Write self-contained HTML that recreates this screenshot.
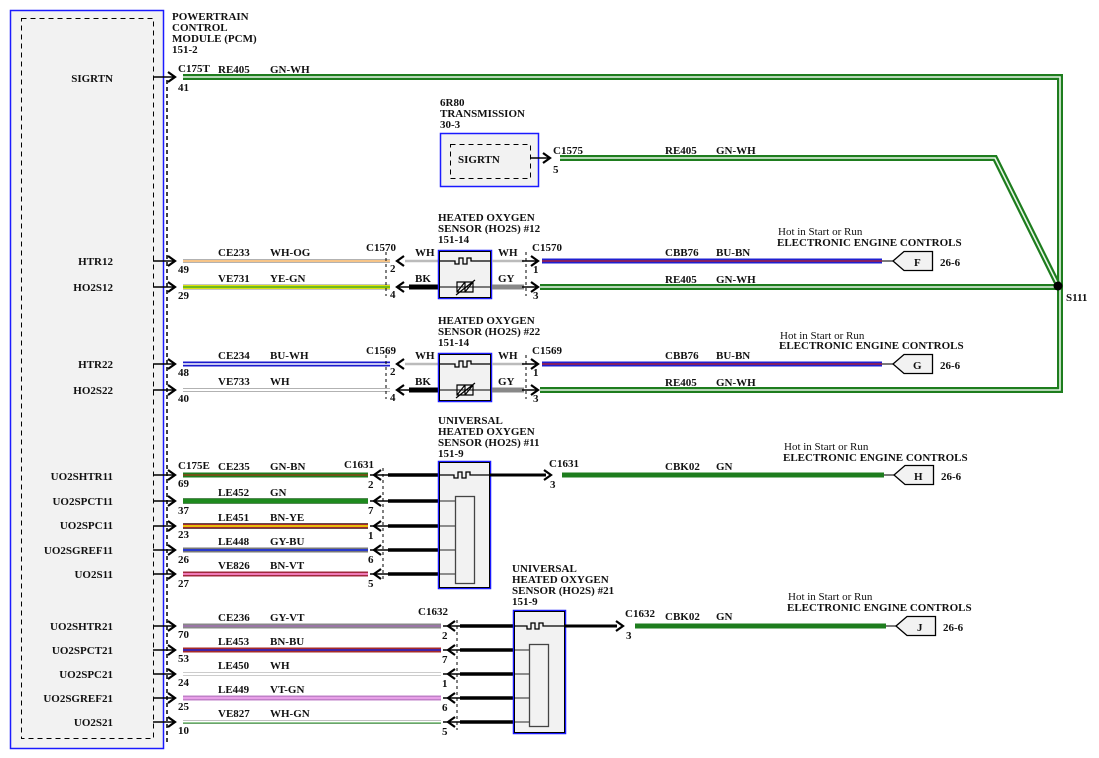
<!DOCTYPE html>
<html><head><meta charset="utf-8"><style>
html,body{margin:0;padding:0;background:#fff}
svg{display:block}
text{font-family:"Liberation Serif",serif;font-size:11px;font-weight:bold;fill:#111}
.n{font-size:11px}
</style></head><body>
<svg width="1099" height="758" viewBox="0 0 1099 758" xmlns="http://www.w3.org/2000/svg">
<defs>
<path id="rc" d="M-7,-5 L0,0 L-7,5" fill="none" stroke="#000" stroke-width="2.2"/>
<path id="lc" d="M7,-5 L0,0 L7,5" fill="none" stroke="#000" stroke-width="2.2"/>
</defs>
<!-- PCM -->
<rect x="10.5" y="10.5" width="153" height="738" fill="#f2f2f2" stroke="#1a1aff" stroke-width="1.5"/>
<rect x="21.5" y="18.5" width="132" height="720" fill="none" stroke="#000" stroke-dasharray="5,4"/>
<line x1="167" y1="80" x2="167" y2="742" stroke="#000" stroke-dasharray="4,3" stroke-width="1.5"/>
<text x="172" y="20">POWERTRAIN</text><text x="172" y="31">CONTROL</text><text x="172" y="42">MODULE (PCM)</text><text x="172" y="53">151-2</text>
<g text-anchor="end">
<text x="113" y="82">SIGRTN</text>
<text x="113" y="265">HTR12</text><text x="113" y="291">HO2S12</text>
<text x="113" y="368">HTR22</text><text x="113" y="394">HO2S22</text>
<text x="113" y="480">UO2SHTR11</text><text x="113" y="505">UO2SPCT11</text><text x="113" y="529">UO2SPC11</text><text x="113" y="554">UO2SGREF11</text><text x="113" y="578">UO2S11</text>
<text x="113" y="630">UO2SHTR21</text><text x="113" y="654">UO2SPCT21</text><text x="113" y="678">UO2SPC21</text><text x="113" y="702">UO2SGREF21</text><text x="113" y="726">UO2S21</text>
</g>
<!-- PCM pin stubs and chevrons -->
<g stroke="#000" stroke-width="1.5">
<line x1="153" y1="77" x2="174" y2="77"/><line x1="153" y1="261" x2="174" y2="261"/><line x1="153" y1="287" x2="174" y2="287"/>
<line x1="153" y1="364" x2="174" y2="364"/><line x1="153" y1="390" x2="174" y2="390"/>
<line x1="153" y1="475" x2="174" y2="475"/><line x1="153" y1="501" x2="174" y2="501"/><line x1="153" y1="526" x2="174" y2="526"/><line x1="153" y1="550" x2="174" y2="550"/><line x1="153" y1="574" x2="174" y2="574"/>
<line x1="153" y1="626" x2="174" y2="626"/><line x1="153" y1="650" x2="174" y2="650"/><line x1="153" y1="674" x2="174" y2="674"/><line x1="153" y1="698" x2="174" y2="698"/><line x1="153" y1="722" x2="174" y2="722"/>
</g>
<use href="#rc" x="175" y="77"/><use href="#rc" x="175" y="261"/><use href="#rc" x="175" y="287"/><use href="#rc" x="175" y="364"/><use href="#rc" x="175" y="390"/>
<use href="#rc" x="175" y="475"/><use href="#rc" x="175" y="501"/><use href="#rc" x="175" y="526"/><use href="#rc" x="175" y="550"/><use href="#rc" x="175" y="574"/>
<use href="#rc" x="175" y="626"/><use href="#rc" x="175" y="650"/><use href="#rc" x="175" y="674"/><use href="#rc" x="175" y="698"/><use href="#rc" x="175" y="722"/>
<g class="n">
<text x="178" y="91">41</text><text x="178" y="273">49</text><text x="178" y="299">29</text><text x="178" y="376">48</text><text x="178" y="402">40</text>
<text x="178" y="487">69</text><text x="178" y="514">37</text><text x="178" y="538">23</text><text x="178" y="563">26</text><text x="178" y="587">27</text>
<text x="178" y="638">70</text><text x="178" y="662">53</text><text x="178" y="686">24</text><text x="178" y="710">25</text><text x="178" y="734">10</text>
</g>
<!-- Green GN-WH trunk -->
<g fill="none" stroke-linejoin="miter">
<path d="M183,77 L1060,77 L1060,390 L540,390" stroke="#1e7d1e" stroke-width="6"/>
<path d="M183,77 L1060,77 L1060,390 L540,390" stroke="#e8f5e8" stroke-width="1.6"/>
<path d="M540,287 L1058,287" stroke="#1e7d1e" stroke-width="6"/><path d="M540,287 L1058,287" stroke="#e8f5e8" stroke-width="1.6"/>
<path d="M560,158 L995,158 L1058,285" stroke="#1e7d1e" stroke-width="6"/><path d="M560,158 L995,158 L1058,285" stroke="#e8f5e8" stroke-width="1.6"/>
</g>
<circle cx="1058" cy="286" r="4.5" fill="#000"/>
<text x="1066" y="301">S111</text>
<text x="178" y="72">C175T</text><text x="218" y="73">RE405</text><text x="270" y="73">GN-WH</text>
<!-- 6R80 -->
<text x="440" y="106">6R80</text><text x="440" y="117">TRANSMISSION</text><text x="440" y="128">30-3</text>
<rect x="440.5" y="133.5" width="98" height="53" fill="#f2f2f2" stroke="#1a1aff" stroke-width="1.5"/>
<rect x="450.5" y="144.5" width="80" height="34" fill="none" stroke="#000" stroke-dasharray="5,4"/>
<text x="458" y="163">SIGRTN</text>
<line x1="530" y1="158" x2="548" y2="158" stroke="#000" stroke-width="1.5"/><use href="#rc" x="550" y="158"/>
<text x="553" y="154">C1575</text><text x="553" y="173">5</text>
<text x="665" y="154">RE405</text><text x="716" y="154">GN-WH</text>
<text x="665" y="283">RE405</text><text x="716" y="283">GN-WH</text>
<text x="665" y="386">RE405</text><text x="716" y="386">GN-WH</text>

<!-- HO2S #12 / #22 groups -->
<g id="g12">
<!-- wires left -->
<line x1="183" y1="261" x2="390" y2="261" stroke="#999" stroke-width="4"/><line x1="183" y1="261" x2="390" y2="261" stroke="#fff" stroke-width="2.4"/><line x1="183" y1="261" x2="390" y2="261" stroke="#f0a040" stroke-width="1.2"/>
<line x1="183" y1="287" x2="390" y2="287" stroke="#888" stroke-width="5"/><line x1="183" y1="287" x2="390" y2="287" stroke="#e8ee00" stroke-width="3.8"/><line x1="183" y1="287" x2="390" y2="287" stroke="#2a9a2a" stroke-width="1.2"/>
<text x="218" y="256">CE233</text><text x="270" y="256">WH-OG</text>
<text x="218" y="282">VE731</text><text x="270" y="282">YE-GN</text>
<text x="366" y="251">C1570</text>
<use href="#lc" x="397" y="261"/><use href="#lc" x="397" y="287"/>
<line x1="405" y1="261" x2="438" y2="261" stroke="#bbb" stroke-width="2.5"/>
<line x1="409" y1="287" x2="438" y2="287" stroke="#000" stroke-width="5"/><line x1="399" y1="287" x2="410" y2="287" stroke="#000" stroke-width="1.5"/>
<line x1="386" y1="252" x2="386" y2="296" stroke="#000" stroke-dasharray="3,3"/>
<text x="390" y="272">2</text><text x="390" y="298">4</text>
<text x="415" y="256">WH</text><text x="415" y="282">BK</text>
<rect x="438.5" y="250.5" width="53" height="48" fill="#f2f2f2" stroke="#1a1aff" stroke-width="1.5"/>
<rect x="439.5" y="251.5" width="51" height="46" fill="none" stroke="#000" stroke-width="1"/>
<path d="M440,261 L455,261 L455,264 L459,264 L459,258 L463,258 L463,264 L467,264 L467,258 L471,258 L471,261 L490,261" fill="none" stroke="#000" stroke-width="1.3"/>
<line x1="440" y1="287" x2="490" y2="287" stroke="#000" stroke-width="1"/>
<path d="M457,282 L465,282 L465,292 L457,292 Z M465,282 L473,282 L473,292 L465,292 Z M457,292 L465,282 M465,292 L473,282 M456,295 L475,280" fill="none" stroke="#000" stroke-width="1.2"/>
<line x1="492" y1="261" x2="524" y2="261" stroke="#bbb" stroke-width="2.5"/>
<line x1="492" y1="287" x2="524" y2="287" stroke="#888" stroke-width="5"/>
<text x="498" y="256">WH</text><text x="498" y="282">GY</text>
<line x1="526" y1="252" x2="526" y2="296" stroke="#000" stroke-dasharray="3,3"/>
<line x1="522" y1="261" x2="536" y2="261" stroke="#000" stroke-width="1.5"/><line x1="522" y1="287" x2="536" y2="287" stroke="#000" stroke-width="1.5"/>
<use href="#rc" x="538" y="261"/><use href="#rc" x="538" y="287"/>
<text x="532" y="251">C1570</text><text x="533" y="273">1</text><text x="533" y="299">3</text>
<line x1="542" y1="261" x2="882" y2="261" stroke="#2020d0" stroke-width="5"/><line x1="542" y1="261" x2="882" y2="261" stroke="#c02020" stroke-width="1.3"/>
<text x="665" y="256">CBB76</text><text x="716" y="256">BU-BN</text>
<line x1="882" y1="261" x2="893" y2="261" stroke="#333" stroke-width="1.3"/>
<path d="M893,261 L904,251.5 L932.5,251.5 L932.5,270.5 L904,270.5 Z" fill="#f2f2f2" stroke="#000" stroke-width="1.3"/>
<text x="914" y="266">F</text><text x="940" y="266">26-6</text>
<text x="778" y="235" style="font-weight:normal">Hot in Start or Run</text><text x="777" y="246">ELECTRONIC ENGINE CONTROLS</text>
<text x="438" y="221">HEATED OXYGEN</text><text x="438" y="232">SENSOR (HO2S) #12</text><text x="438" y="243">151-14</text>
</g>
<!-- group 22 -->
<g>
<line x1="183" y1="364" x2="390" y2="364" stroke="#1a1acc" stroke-width="5"/><line x1="183" y1="364" x2="390" y2="364" stroke="#fff" stroke-width="1.4"/>
<line x1="183" y1="390" x2="390" y2="390" stroke="#999" stroke-width="4"/><line x1="183" y1="390" x2="390" y2="390" stroke="#fff" stroke-width="2.6"/>
<text x="218" y="359">CE234</text><text x="270" y="359">BU-WH</text>
<text x="218" y="385">VE733</text><text x="270" y="385">WH</text>
<text x="366" y="354">C1569</text>
<use href="#lc" x="397" y="364"/><use href="#lc" x="397" y="390"/>
<line x1="405" y1="364" x2="438" y2="364" stroke="#bbb" stroke-width="2.5"/>
<line x1="409" y1="390" x2="438" y2="390" stroke="#000" stroke-width="5"/><line x1="399" y1="390" x2="410" y2="390" stroke="#000" stroke-width="1.5"/>
<line x1="386" y1="355" x2="386" y2="399" stroke="#000" stroke-dasharray="3,3"/>
<text x="390" y="375">2</text><text x="390" y="401">4</text>
<text x="415" y="359">WH</text><text x="415" y="385">BK</text>
<rect x="438.5" y="353.5" width="53" height="48" fill="#f2f2f2" stroke="#1a1aff" stroke-width="1.5"/>
<rect x="439.5" y="354.5" width="51" height="46" fill="none" stroke="#000" stroke-width="1"/>
<path d="M440,364 L455,364 L455,367 L459,367 L459,361 L463,361 L463,367 L467,367 L467,361 L471,361 L471,364 L490,364" fill="none" stroke="#000" stroke-width="1.3"/>
<line x1="440" y1="390" x2="490" y2="390" stroke="#000" stroke-width="1"/>
<path d="M457,385 L465,385 L465,395 L457,395 Z M465,385 L473,385 L473,395 L465,395 Z M457,395 L465,385 M465,395 L473,385 M456,398 L475,383" fill="none" stroke="#000" stroke-width="1.2"/>
<line x1="492" y1="364" x2="524" y2="364" stroke="#bbb" stroke-width="2.5"/>
<line x1="492" y1="390" x2="524" y2="390" stroke="#888" stroke-width="5"/>
<text x="498" y="359">WH</text><text x="498" y="385">GY</text>
<line x1="526" y1="355" x2="526" y2="399" stroke="#000" stroke-dasharray="3,3"/>
<line x1="522" y1="364" x2="536" y2="364" stroke="#000" stroke-width="1.5"/><line x1="522" y1="390" x2="536" y2="390" stroke="#000" stroke-width="1.5"/>
<use href="#rc" x="538" y="364"/><use href="#rc" x="538" y="390"/>
<text x="532" y="354">C1569</text><text x="533" y="376">1</text><text x="533" y="402">3</text>
<line x1="542" y1="364" x2="882" y2="364" stroke="#2020d0" stroke-width="5"/><line x1="542" y1="364" x2="882" y2="364" stroke="#c02020" stroke-width="1.3"/>
<text x="665" y="359">CBB76</text><text x="716" y="359">BU-BN</text>
<line x1="882" y1="364" x2="893" y2="364" stroke="#333" stroke-width="1.3"/>
<path d="M893,364 L904,354.5 L932.5,354.5 L932.5,373.5 L904,373.5 Z" fill="#f2f2f2" stroke="#000" stroke-width="1.3"/>
<text x="913" y="369">G</text><text x="940" y="369">26-6</text>
<text x="780" y="339" style="font-weight:normal">Hot in Start or Run</text><text x="779" y="349">ELECTRONIC ENGINE CONTROLS</text>
<text x="438" y="324">HEATED OXYGEN</text><text x="438" y="335">SENSOR (HO2S) #22</text><text x="438" y="346">151-14</text>
</g>

<!-- UHO2S #11 -->
<g>
<line x1="183" y1="475" x2="368" y2="475" stroke="#1e7d1e" stroke-width="5"/><line x1="183" y1="475" x2="368" y2="475" stroke="#8b4513" stroke-width="1.4"/>
<line x1="183" y1="501" x2="368" y2="501" stroke="#888" stroke-width="6"/><line x1="183" y1="501" x2="368" y2="501" stroke="#1e8a1e" stroke-width="5"/>
<line x1="183" y1="526" x2="368" y2="526" stroke="#555" stroke-width="6"/><line x1="183" y1="526" x2="368" y2="526" stroke="#a52a2a" stroke-width="4.5"/><line x1="183" y1="526" x2="368" y2="526" stroke="#ffee00" stroke-width="1.6"/>
<line x1="183" y1="550" x2="368" y2="550" stroke="#777" stroke-width="5"/><line x1="183" y1="550" x2="368" y2="550" stroke="#2a3acc" stroke-width="2"/>
<line x1="183" y1="574" x2="368" y2="574" stroke="#a0283c" stroke-width="5"/><line x1="183" y1="574" x2="368" y2="574" stroke="#f07ab8" stroke-width="2"/>
<text x="178" y="469">C175E</text><text x="218" y="470">CE235</text><text x="270" y="470">GN-BN</text>
<text x="218" y="496">LE452</text><text x="270" y="496">GN</text>
<text x="218" y="521">LE451</text><text x="270" y="521">BN-YE</text>
<text x="218" y="545">LE448</text><text x="270" y="545">GY-BU</text>
<text x="218" y="569">VE826</text><text x="270" y="569">BN-VT</text>
<text x="344" y="468">C1631</text>
<g stroke="#000" stroke-width="1.5"><line x1="370" y1="475" x2="388" y2="475"/><line x1="370" y1="501" x2="388" y2="501"/><line x1="370" y1="526" x2="388" y2="526"/><line x1="370" y1="550" x2="388" y2="550"/><line x1="370" y1="574" x2="388" y2="574"/></g>
<use href="#lc" x="374" y="475"/><use href="#lc" x="374" y="501"/><use href="#lc" x="374" y="526"/><use href="#lc" x="374" y="550"/><use href="#lc" x="374" y="574"/>
<rect x="383.5" y="468.5" width="0" height="0"/>
<line x1="383" y1="468" x2="383" y2="582" stroke="#000" stroke-dasharray="3,3"/>
<text x="368" y="488">2</text><text x="368" y="514">7</text><text x="368" y="539">1</text><text x="368" y="563">6</text><text x="368" y="587">5</text>
<g stroke="#000" stroke-width="3.5"><line x1="388" y1="475" x2="438" y2="475"/><line x1="388" y1="501" x2="438" y2="501"/><line x1="388" y1="526" x2="438" y2="526"/><line x1="388" y1="550" x2="438" y2="550"/><line x1="388" y1="574" x2="438" y2="574"/></g>
<rect x="438.5" y="461.5" width="52" height="127" fill="#f2f2f2" stroke="#1a1aff" stroke-width="1.5"/>
<rect x="439.5" y="462.5" width="50" height="125" fill="none" stroke="#000" stroke-width="1"/>
<g stroke="#555" stroke-width="1.3"><line x1="440" y1="501" x2="455" y2="501"/><line x1="440" y1="526" x2="455" y2="526"/><line x1="440" y1="550" x2="455" y2="550"/><line x1="440" y1="574" x2="455" y2="574"/></g>
<rect x="455.5" y="496.5" width="19" height="87" fill="#f2f2f2" stroke="#444" stroke-width="1.3"/>
<path d="M440,475 L454,475 L454,478 L458,478 L458,472 L462,472 L462,478 L466,478 L466,472 L470,472 L470,475 L490,475" fill="none" stroke="#000" stroke-width="1.3"/>
<line x1="490" y1="475" x2="546" y2="475" stroke="#000" stroke-width="3"/><use href="#rc" x="551" y="475"/>
<text x="549" y="467">C1631</text><text x="550" y="488">3</text>
<line x1="562" y1="475" x2="884" y2="475" stroke="#1e7d1e" stroke-width="5"/>
<text x="665" y="470">CBK02</text><text x="716" y="470">GN</text>
<line x1="884" y1="475" x2="894" y2="475" stroke="#333" stroke-width="1.3"/>
<path d="M894,475 L905,465.5 L933.5,465.5 L933.5,484.5 L905,484.5 Z" fill="#f2f2f2" stroke="#000" stroke-width="1.3"/>
<text x="914" y="480">H</text><text x="941" y="480">26-6</text>
<text x="784" y="450" style="font-weight:normal">Hot in Start or Run</text><text x="783" y="461">ELECTRONIC ENGINE CONTROLS</text>
<text x="438" y="424">UNIVERSAL</text><text x="438" y="435">HEATED OXYGEN</text><text x="438" y="446">SENSOR (HO2S) #11</text><text x="438" y="457">151-9</text>
</g>

<!-- UHO2S #21 -->
<g>
<line x1="183" y1="626" x2="441" y2="626" stroke="#888" stroke-width="5"/><line x1="183" y1="626" x2="441" y2="626" stroke="#a070b0" stroke-width="1.6"/>
<line x1="183" y1="650" x2="441" y2="650" stroke="#a52a2a" stroke-width="5"/><line x1="183" y1="650" x2="441" y2="650" stroke="#2020d0" stroke-width="1.6"/>
<line x1="183" y1="674" x2="441" y2="674" stroke="#bbb" stroke-width="4"/><line x1="183" y1="674" x2="441" y2="674" stroke="#fff" stroke-width="2.4"/>
<line x1="183" y1="698" x2="441" y2="698" stroke="#c080c8" stroke-width="5"/><line x1="183" y1="698" x2="441" y2="698" stroke="#e8a0e8" stroke-width="2"/>
<line x1="183" y1="722" x2="441" y2="722" stroke="#aaa" stroke-width="4"/><line x1="183" y1="722" x2="441" y2="722" stroke="#fff" stroke-width="2.4"/><line x1="183" y1="723" x2="441" y2="723" stroke="#2a9a2a" stroke-width="0.9"/>
<text x="218" y="621">CE236</text><text x="270" y="621">GY-VT</text>
<text x="218" y="645">LE453</text><text x="270" y="645">BN-BU</text>
<text x="218" y="669">LE450</text><text x="270" y="669">WH</text>
<text x="218" y="693">LE449</text><text x="270" y="693">VT-GN</text>
<text x="218" y="717">VE827</text><text x="270" y="717">WH-GN</text>
<text x="418" y="615">C1632</text>
<g stroke="#000" stroke-width="1.5"><line x1="443" y1="626" x2="460" y2="626"/><line x1="443" y1="650" x2="460" y2="650"/><line x1="443" y1="674" x2="460" y2="674"/><line x1="443" y1="698" x2="460" y2="698"/><line x1="443" y1="722" x2="460" y2="722"/></g>
<use href="#lc" x="448" y="626"/><use href="#lc" x="448" y="650"/><use href="#lc" x="448" y="674"/><use href="#lc" x="448" y="698"/><use href="#lc" x="448" y="722"/>
<line x1="457" y1="620" x2="457" y2="730" stroke="#000" stroke-dasharray="3,3"/>
<text x="442" y="639">2</text><text x="442" y="663">7</text><text x="442" y="687">1</text><text x="442" y="711">6</text><text x="442" y="735">5</text>
<g stroke="#000" stroke-width="3.5"><line x1="460" y1="626" x2="513" y2="626"/><line x1="460" y1="650" x2="513" y2="650"/><line x1="460" y1="674" x2="513" y2="674"/><line x1="460" y1="698" x2="513" y2="698"/><line x1="460" y1="722" x2="513" y2="722"/></g>
<rect x="513.5" y="610.5" width="52" height="123" fill="#f2f2f2" stroke="#1a1aff" stroke-width="1.5"/>
<rect x="514.5" y="611.5" width="50" height="121" fill="none" stroke="#000" stroke-width="1"/>
<g stroke="#555" stroke-width="1.3"><line x1="515" y1="650" x2="529" y2="650"/><line x1="515" y1="674" x2="529" y2="674"/><line x1="515" y1="698" x2="529" y2="698"/><line x1="515" y1="722" x2="529" y2="722"/></g>
<rect x="529.5" y="644.5" width="19" height="82" fill="#f2f2f2" stroke="#444" stroke-width="1.3"/>
<path d="M515,626 L527,626 L527,629 L531,629 L531,623 L535,623 L535,629 L539,629 L539,623 L543,623 L543,626 L565,626" fill="none" stroke="#000" stroke-width="1.3"/>
<line x1="565" y1="626" x2="617" y2="626" stroke="#000" stroke-width="3"/><use href="#rc" x="623" y="626"/>
<text x="625" y="617">C1632</text><text x="626" y="639">3</text>
<line x1="635" y1="626" x2="886" y2="626" stroke="#1e7d1e" stroke-width="5"/>
<text x="665" y="620">CBK02</text><text x="716" y="620">GN</text>
<line x1="886" y1="626" x2="896" y2="626" stroke="#333" stroke-width="1.3"/>
<path d="M896,626 L907,616.5 L935.5,616.5 L935.5,635.5 L907,635.5 Z" fill="#f2f2f2" stroke="#000" stroke-width="1.3"/>
<text x="917" y="631">J</text><text x="943" y="631">26-6</text>
<text x="788" y="600" style="font-weight:normal">Hot in Start or Run</text><text x="787" y="611">ELECTRONIC ENGINE CONTROLS</text>
<text x="512" y="572">UNIVERSAL</text><text x="512" y="583">HEATED OXYGEN</text><text x="512" y="594">SENSOR (HO2S) #21</text><text x="512" y="605">151-9</text>
</g>
</svg>
</body></html>
